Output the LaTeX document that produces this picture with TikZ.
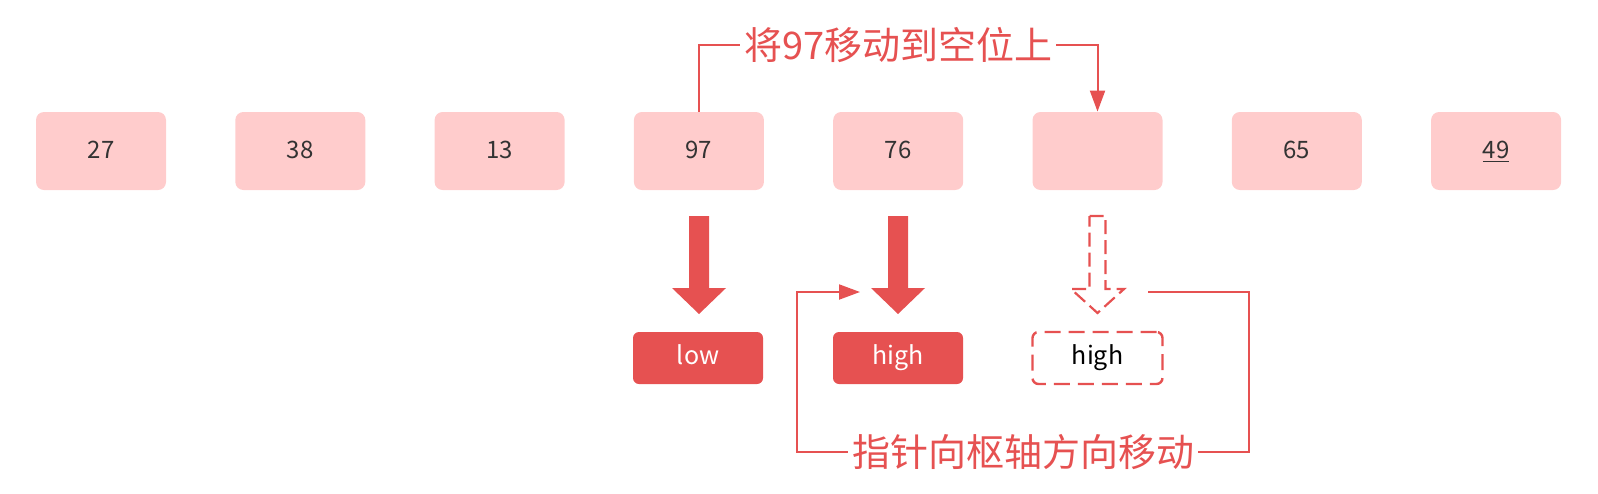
\documentclass[tikz,border=0pt]{standalone}
\usepackage{fontspec}
\setmainfont{Noto Sans CJK SC}
\usetikzlibrary{arrows.meta}

\definecolor{pivotred}{HTML}{E65151}
\definecolor{cellpink}{HTML}{FFCCCC}
\definecolor{numgray}{HTML}{333333}

\tikzset{
  cell/.style={fill=cellpink, rounded corners=4pt, minimum width=65pt, minimum height=39pt,
    text=numgray, text height=8.5pt, text depth=1.5pt, font=\fontsize{12}{14}\selectfont},
  ptr/.style={fill=pivotred, rounded corners=3pt, minimum width=65pt, minimum height=26pt,
    text=white, text height=9pt, text depth=3pt, font=\fontsize{12.5}{14}\selectfont},
  ghost/.style={ptr, fill=white, draw=pivotred, line width=1.2pt,
    dash pattern=on 8pt off 4pt, text=black},
  link/.style={draw=pivotred, line width=1pt, -{Triangle[length=10.5pt,width=7.5pt]}},
  note/.style={fill=white, text=pivotred, inner xsep=2pt, inner ysep=0pt,
    font=\fontsize{19}{22}\selectfont}
}

\begin{document}
\begin{tikzpicture}[x=0.5pt,y=-0.5pt]
    \useasboundingbox (0,0) rectangle (1598,493);

    % the array
    \foreach \v [count=\i] in {27,38,13,97,76,{},65,\underline{49}}
        \node[cell] (b\i) at ({101+199.3*(\i-1)},151) {\v};

    % pointers
    \node[ptr] (low) at (698,358) {low};
    \node[ptr] (high) at (898,358) {high};
    \node[ghost] (next) at (1097.5,358) {high};

    \foreach \x in {699,898}
        \fill[pivotred] (\x-10,216) -- (\x+10,216) -- (\x+10,288) -- (\x+27,288)
            -- (\x,314) -- (\x-27,288) -- (\x-10,288) -- cycle;
    \draw[pivotred, line width=1.1pt, dash pattern=on 7pt off 3pt]
        (1089.5,216) -- (1105.5,216) -- (1105.5,289) -- (1124,289)
        -- (1097.5,313) -- (1071,289) -- (1089.5,289) -- cycle;

    % move 97 into the gap
    \draw[link] (b4.north) -- ++(0,-67) -| node[note, pos=0.25] {将97移动到空位上} (b6.north);

    % pointer moves toward the pivot
    \coordinate (from) at (1148,292);
    \coordinate (to) at (860,292);
    \draw[link] (from) -- (1249,292) |- node[note, pos=0.75] {指针向枢轴方向移动} (797,452)
        -- (797,292) -- (to);
\end{tikzpicture}
\end{document}
